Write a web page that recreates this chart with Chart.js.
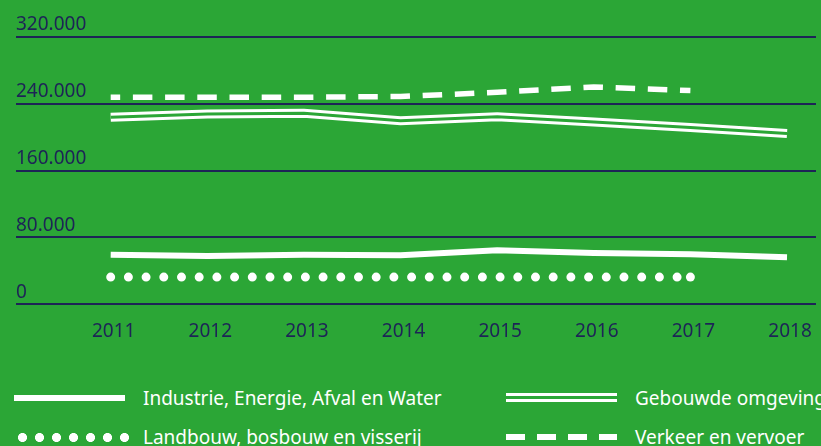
<!DOCTYPE html>
<html lang="nl">
<head>
    <meta charset="UTF-8">
    <title>Emissies per sector</title>
    <script src="https://cdn.jsdelivr.net/npm/chart.js"></script>
    <style>
        html, body {
            margin: 0;
            padding: 0;
            background: #2ba636;
            font-family: "Noto Sans", sans-serif;
        }
        .wrap {
            position: relative;
            width: 821px;
            height: 446px;
            overflow: hidden;
        }
        .chart-box {
            position: absolute;
            left: 0;
            top: 0;
            width: 821px;
            height: 351px;
        }
        .legend-item {
            position: absolute;
            color: #fff;
            font-size: 19px;
            line-height: 24px;
            white-space: nowrap;
        }
        .swatch {
            position: absolute;
            width: 111px;
        }
        .sw-solid { height: 6px; background: #fff; }
        .sw-double { height: 3px; border-top: 3px solid #fff; border-bottom: 3px solid #fff; }
        .sw-dots {
            height: 9px;
            background: radial-gradient(circle, #fff 4.2px, transparent 4.8px) 0 0 / 17px 9px repeat-x;
        }
        .sw-dash {
            height: 6px;
            background: linear-gradient(90deg, #fff 0 19px, transparent 19px 31px) 0 0 / 31px 6px repeat-x;
        }
    </style>
</head>
<body>
<div class="wrap">
    <div class="chart-box"><canvas id="chart"></canvas></div>

    <div class="swatch sw-solid" style="left:14px; top:395px;"></div>
    <div class="legend-item" style="left:143px; top:386px;">Industrie, Energie, Afval en Water</div>

    <div class="swatch sw-double" style="left:506px; top:393px;"></div>
    <div class="legend-item" style="left:635px; top:386px;">Gebouwde omgeving</div>

    <div class="swatch sw-dots" style="left:14px; top:433px; width:116px;"></div>
    <div class="legend-item" style="left:143px; top:425px;">Landbouw, bosbouw en visserij</div>

    <div class="swatch sw-dash" style="left:506px; top:434px;"></div>
    <div class="legend-item" style="left:635px; top:425px;">Verkeer en vervoer</div>
</div>

<script>
    const years = [2011, 2012, 2013, 2014, 2015, 2016, 2017, 2018];
    const industrie = [59300, 57700, 59300, 58600, 64600, 61400, 59800, 56200];
    const gebouwd = [223800, 227900, 228800, 219800, 224600, 218300, 211700, 204500];
    const landbouw = [32500, 32500, 32500, 32500, 32500, 32500, 32500, null];
    const verkeer = [247800, 247800, 247800, 248700, 253800, 260200, 255900, null];
    const yTicks = [0, 80000, 160000, 240000, 320000];

    const GREEN = "#2ba636";
    const NAVY = "#1d2456";

    const pts = arr => years.map((y, i) => ({ x: y, y: arr[i] }));

    // the dotted line ends with a dot on its last point
    const lastDot = landbouw.map((v, i) => (v !== null && landbouw[i + 1] == null) ? 4.5 : 0);

    new Chart(document.getElementById("chart"), {
        type: "line",
        data: {
            datasets: [
                {
                    label: "Gebouwde omgeving (gap)",
                    data: pts(gebouwd),
                    borderColor: GREEN,
                    borderWidth: 3,
                    order: 0
                },
                {
                    label: "Gebouwde omgeving",
                    data: pts(gebouwd),
                    borderColor: "#fff",
                    borderWidth: 9,
                    order: 1
                },
                {
                    label: "Industrie, Energie, Afval en Water",
                    data: pts(industrie),
                    borderColor: "#fff",
                    borderWidth: 6,
                    order: 2
                },
                {
                    label: "Landbouw, bosbouw en visserij",
                    data: pts(landbouw),
                    borderColor: "#fff",
                    borderWidth: 9,
                    borderCapStyle: "round",
                    borderDash: [0, 17.7],
                    pointRadius: lastDot,
                    pointBackgroundColor: "#fff",
                    pointBorderWidth: 0,
                    order: 3
                },
                {
                    label: "Verkeer en vervoer",
                    data: pts(verkeer),
                    borderColor: "#fff",
                    borderWidth: 5.5,
                    borderDash: [19.5, 12.7],
                    borderDashOffset: 10,
                    order: 4
                }
            ]
        },
        options: {
            responsive: true,
            maintainAspectRatio: false,
            animation: false,
            spanGaps: false,
            elements: {
                point: { radius: 0, hoverRadius: 0 },
                line: { tension: 0, fill: false, borderJoinStyle: "miter" }
            },
            layout: { padding: { left: 16, right: 5, top: 37, bottom: 0 } },
            plugins: {
                legend: { display: false },
                tooltip: { enabled: false }
            },
            scales: {
                x: {
                    type: "linear",
                    min: 2010.02,
                    max: 2018.3,
                    afterBuildTicks: axis => {
                        axis.ticks = years.map(v => ({ value: v }));
                    },
                    grid: { display: false },
                    border: { display: false },
                    ticks: {
                        color: NAVY,
                        font: { family: "Noto Sans", size: 19 },
                        padding: 8,
                        labelOffset: 3,
                        maxRotation: 0,
                        autoSkip: false,
                        callback: v => String(v)
                    }
                },
                y: {
                    min: 0,
                    max: 320000,
                    afterBuildTicks: axis => {
                        axis.ticks = yTicks.map(v => ({ value: v }));
                    },
                    grid: {
                        color: NAVY,
                        lineWidth: 2,
                        drawTicks: false
                    },
                    border: { display: false },
                    ticks: {
                        mirror: true,
                        padding: 0,
                        labelOffset: -12,
                        color: NAVY,
                        font: { family: "Noto Sans", size: 19 },
                        callback: v => v.toLocaleString("de-DE")
                    }
                }
            }
        }
    });
</script>
</body>
</html>
